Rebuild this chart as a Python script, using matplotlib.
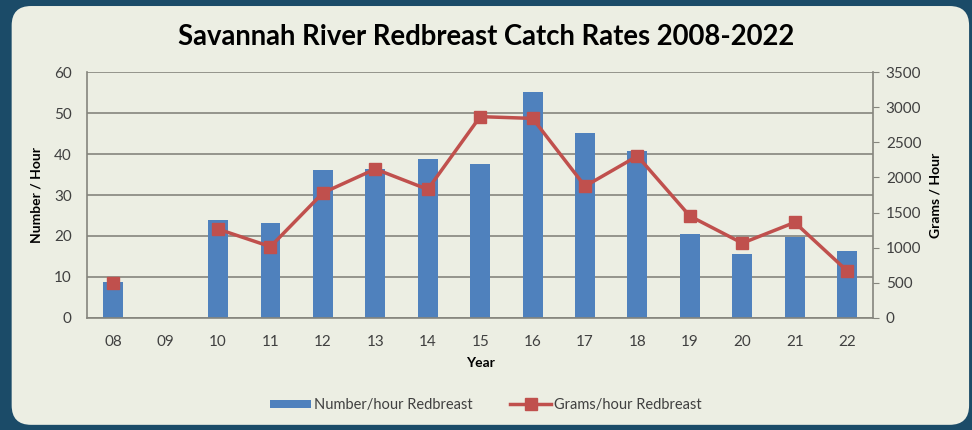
import numpy as np
import matplotlib
matplotlib.use("Agg")
from matplotlib import pyplot as plt
from matplotlib.patches import FancyBboxPatch
from matplotlib.lines import Line2D
from matplotlib.patches import Patch

# datos
years = ["08", "09", "10", "11", "12", "13", "14", "15", "16", "17", "18", "19", "20", "21", "22"]
number_hour = [8.7, np.nan, 23.9, 23.1, 36.1, 36.3, 38.7, 37.6, 55.2, 45.1, 40.8, 20.6, 15.6, 19.8, 16.3]
grams_hour = [500, np.nan, 1265, 1015, 1780, 2120, 1830, 2865, 2840, 1875, 2305, 1450, 1065, 1360, 670]

left_ticks = [0, 10, 20, 30, 40, 50, 60]
right_ticks = [0, 500, 1000, 1500, 2000, 2500, 3000, 3500]

blue = "#4F81BD"
red = "#C0504D"
panel = "#ECEEE3"
fondo = "#1B4B68"
grid_c = "#85857D"
txt = "#404040"

plt.rcParams['font.family'] = ['Lato', 'DejaVu Sans']

fig = plt.figure(figsize=(9.72, 4.30), dpi=100)
fig.patch.set_facecolor(fondo)

# panel claro con esquinas redondeadas
caja = FancyBboxPatch((0.012, 0.012), 0.985, 0.974, boxstyle="round,pad=0,rounding_size=0.02",
                      transform=fig.transFigure, facecolor=panel, edgecolor="none", zorder=-10,
                      mutation_aspect=972/430)
fig.patches.append(caja)

ax = fig.add_axes([0.0895, 0.2605, 0.809, 0.572])
ax.set_facecolor("none")
x = np.arange(len(years))

ax.bar(x, number_hour, width=0.38, color=blue, zorder=2)
ax.set_xlim(-0.5, len(years) - 0.5)
ax.set_ylim(0, 60)
ax.set_yticks(left_ticks)
ax.set_xticks(x)
ax.set_xticklabels(years)
ax.yaxis.grid(True, color=grid_c, linewidth=1.2, zorder=0)
ax.set_axisbelow(True)
ax.tick_params(axis="both", length=0, labelsize=11, colors=txt)
ax.tick_params(axis="x", pad=12)
ax.tick_params(axis="y", pad=11)
for s in ["top", "right"]:
    ax.spines[s].set_visible(False)
for s in ["left", "bottom"]:
    ax.spines[s].set_color(grid_c)
    ax.spines[s].set_linewidth(1.2)
ax.set_xlabel("Year", fontsize=10, fontweight="bold", color="black", labelpad=6)
ax.set_ylabel("Number / Hour", fontsize=10, fontweight="bold", color="black", labelpad=8)

ax2 = ax.twinx()
ax2.plot(x, grams_hour, color=red, linewidth=2.5, marker="s", markersize=8, zorder=3)
ax2.set_ylim(0, 3500)
ax2.set_yticks(right_ticks)
for s in ["top", "left", "bottom"]:
    ax2.spines[s].set_visible(False)
ax2.spines["right"].set_color(grid_c)
ax2.spines["right"].set_linewidth(1.2)
ax2.tick_params(axis="y", direction="out", length=4, color=grid_c, labelsize=11, colors=txt, pad=5)
ax2.set_ylabel("Grams / Hour", fontsize=10, fontweight="bold", color="black", labelpad=6)

fig.text(0.5, 0.915, "Savannah River Redbreast Catch Rates 2008-2022", ha="center", va="center",
         fontsize=19.8, fontweight="bold", color="black")

handles = [Patch(facecolor=blue, edgecolor="none"),
           Line2D([0], [0], color=red, linewidth=2.5, marker="s", markersize=8)]
fig.legend(handles, ["Number/hour Redbreast", "Grams/hour Redbreast"], loc="center",
           bbox_to_anchor=(0.5, 0.058), ncol=2, frameon=False, fontsize=10.5,
           handlelength=2.8, handleheight=0.5, columnspacing=2.6, handletextpad=0.2,
           labelcolor=txt)

plt.savefig("out.png", dpi=100, facecolor=fondo)
